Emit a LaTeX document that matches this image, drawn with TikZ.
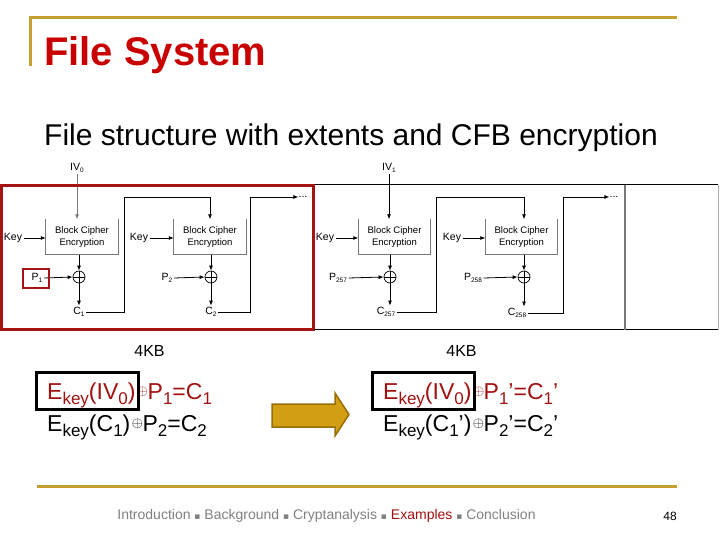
\documentclass[tikz,border=0pt]{standalone}
\usepackage{fontspec}
\setmainfont{Liberation Sans}
\newfontfamily\dejavu{DejaVu Sans}
\usetikzlibrary{arrows.meta}
\definecolor{gold}{RGB}{196,160,48}
\definecolor{titlered}{RGB}{200,0,0}
\definecolor{darkred}{RGB}{160,16,16}
\definecolor{boxred}{RGB}{165,20,20}
\definecolor{footgray}{RGB}{128,128,128}
\definecolor{arrowfill}{RGB}{210,158,20}
\definecolor{arrowdraw}{RGB}{150,110,10}
\definecolor{diagray}{RGB}{120,120,120}
\newcommand{\dsub}[1]{\raisebox{-2pt}{\fontsize{6.5}{6.5}\selectfont #1}}
\newcommand{\esub}[1]{\raisebox{-5pt}{\fontsize{17}{17}\selectfont #1}}
\newcommand{\xo}{\kern1.5pt\raisebox{3.5pt}{\fontsize{14}{14}\selectfont$\oplus$}\kern-0.5pt}
\newcommand{\sep}{{\dejavu\fontsize{9}{9}\selectfont ▪}}
\tikzset{
  lbl/.style={font=\fontsize{10.5}{12}\selectfont, inner sep=1.5pt},
  blk/.style={minimum width=72pt, minimum height=35pt, align=center, font=\fontsize{9.5}{12}\selectfont, inner sep=0pt},
  xor/.style={circle, draw, line width=0.7pt, minimum size=12pt, inner sep=0pt,
    path picture={\draw[line width=0.7pt] (path picture bounding box.north) -- (path picture bounding box.south)
      (path picture bounding box.west) -- (path picture bounding box.east);}},
  arr/.style={-{Latex[length=5pt,width=4pt]}, line width=0.8pt},
  ubox/.style={diagray, line width=1pt},
  eq/.style={anchor=base west, inner sep=0pt, font=\fontsize{23}{27}\selectfont},
  goldline/.style={gold, line width=3pt},
}
\begin{document}
\begin{tikzpicture}[x=1pt,y=-1pt]
\useasboundingbox (0,0) rectangle (720,540);
% header
\draw[goldline] (30,66) -- (30,18) -- (677,18);
\node[anchor=base west, inner sep=0pt, font=\fontsize{40}{48}\selectfont\bfseries, text=titlered] (title) at (44,66) {File System};
\node[anchor=base west, inner sep=0pt, font=\fontsize{30}{36}\selectfont] (subtitle) at (44,146) {File structure with extents and CFB encryption};

% frame
\draw[line width=1pt] (313,185) -- (718,185);
\draw[line width=1pt] (313,329.5) -- (718,329.5);
\draw[black!30, line width=0.8pt] (718,185) -- (718,329.5);
\draw[diagray, line width=2pt] (625,185) -- (625,329.5);

% ---- extent 1 ----
\node[lbl] (iv0) at (77,168) {IV\dsub{0}};
\node[blk] (b1) at (82,237) {Block Cipher\\Encryption};
\node[lbl] (k1) at (13,238) {Key};
\node[xor] (x1) at (79,277) {};
\node[lbl] (p1) at (37,278) {P\dsub{1}};
\node[lbl] (c1) at (79,312) {C\dsub{1}};
\node[blk] (b2) at (210,237) {Block Cipher\\Encryption};
\node[lbl] (k2) at (139,238) {Key};
\node[xor] (x2) at (211,277) {};
\node[lbl] (p2) at (167,278) {P\dsub{2}};
\node[lbl] (c2) at (211,312) {C\dsub{2}};
\node[lbl, inner sep=0pt] (d1) at (303,197) {...};
\coordinate (j1) at (124,197);
\coordinate (j2) at (250,197);

\draw[ubox] (b1.north west) |- (b1.south east) -- (b1.north east);
\draw[ubox] (b2.north west) |- (b2.south east) -- (b2.north east);
\draw[arr, diagray] (iv0.south) -- (iv0.south |- b1.north);
\draw[arr] (k1.east) -- (k1.east -| b1.west);
\draw[arr] (x1 |- b1.south) -- (x1.north);
\draw[arr] (p1.east) -- (x1.west);
\draw[arr] (x1.south) -- (c1.north);
\draw[arr] (c1.east) -| (j1) -| (b2.north);
\draw[arr] (k2.east) -- (k2.east -| b2.west);
\draw[arr] (x2 |- b2.south) -- (x2.north);
\draw[arr] (p2.east) -- (x2.west);
\draw[arr] (x2.south) -- (c2.north);
\draw[arr] (c2.east) -| (j2) -- (d1.west);

% ---- extent 2 ----
\node[lbl] (iv1) at (389,168) {IV\dsub{1}};
\node[blk] (b3) at (394.5,237) {Block Cipher\\Encryption};
\node[lbl] (k3) at (325,238) {Key};
\node[xor] (x3) at (390,277) {};
\node[lbl] (p3) at (338,278) {P\dsub{257}};
\node[lbl] (c3) at (386,312) {C\dsub{257}};
\node[blk] (b4) at (521.5,237) {Block Cipher\\Encryption};
\node[lbl] (k4) at (452,238) {Key};
\node[xor] (x4) at (524,277) {};
\node[lbl] (p4) at (473,278) {P\dsub{258}};
\node[lbl] (c4) at (517,313) {C\dsub{258}};
\node[lbl, inner sep=0pt] (d2) at (614,197) {...};
\coordinate (j3) at (436,197);
\coordinate (j4) at (563,197);

\draw[ubox] (b3.north west) |- (b3.south east) -- (b3.north east);
\draw[ubox] (b4.north west) |- (b4.south east) -- (b4.north east);
\draw[arr] (iv1.south) -- (iv1.south |- b3.north);
\draw[arr] (k3.east) -- (k3.east -| b3.west);
\draw[arr] (x3 |- b3.south) -- (x3.north);
\draw[arr] (p3.east) -- (x3.west);
\draw[arr] (x3.south) -- (x3.south |- c3.north);
\draw[arr] (c3.east) -| (j3) -| (x4 |- b4.north);
\draw[arr] (k4.east) -- (k4.east -| b4.west);
\draw[arr] (x4 |- b4.south) -- (x4.north);
\draw[arr] (p4.east) -- (x4.west);
\draw[arr] (x4.south) -- (x4.south |- c4.north);
\draw[arr] (c4.east) -| (j4) -- (d2.west);

% red highlight boxes
\draw[boxred, line width=3pt] (1.5,186) rectangle (313,329);
\draw[boxred, line width=2.5pt] (23,269) rectangle (49,288);

% size labels
\node[font=\fontsize{16}{19}\selectfont] (kb1) at (149.5,351) {4KB};
\node[font=\fontsize{16}{19}\selectfont] (kb2) at (461.5,351) {4KB};

% equations
\node[eq, text=darkred] (e1) at (47,399) {E\esub{key}(IV\esub{0})\xo P\esub{1}=C\esub{1}};
\node[eq] (e2) at (47,431) {E\esub{key}(C\esub{1})\xo P\esub{2}=C\esub{2}};
\node[eq, text=darkred] (e3) at (383,399) {E\esub{key}(IV\esub{0})\xo P\esub{1}’=C\esub{1}’};
\node[eq] (e4) at (383,431) {E\esub{key}(C\esub{1}’)\xo P\esub{2}’=C\esub{2}’};
\draw[line width=3pt] (36,372) rectangle (138,409);
\draw[line width=3pt] (372,372) rectangle (474,409);

% big arrow
\draw[fill=arrowfill, draw=arrowdraw, line width=1.5pt, line join=miter]
  (272,404) -- (335,404) -- (335,393) -- (349,414.5) -- (335,436) -- (335,427) -- (272,427) -- cycle;

% footer
\draw[goldline] (37,486) -- (677,486);
\node[font=\fontsize{14}{16}\selectfont, text=footgray] (foot) at (326.5,516)
  {Introduction \sep{} Background \sep{} Cryptanalysis \sep{} {\color{darkred}Examples} \sep{} Conclusion};
\node[font=\fontsize{12}{14}\selectfont] (page) at (670,516) {48};
\end{tikzpicture}
\end{document}
